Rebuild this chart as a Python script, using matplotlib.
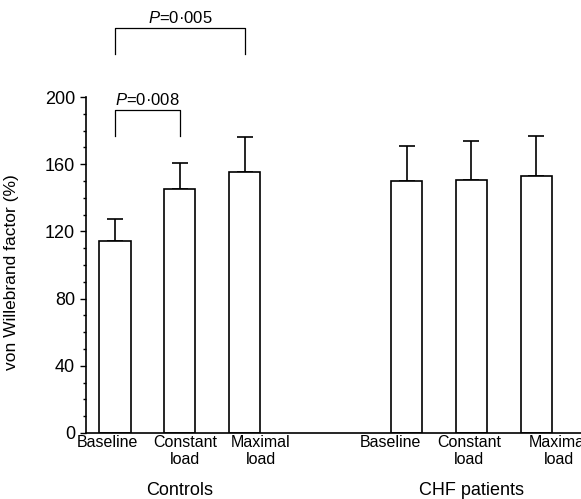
import numpy as np
import matplotlib
matplotlib.use("Agg")
import matplotlib.pyplot as plt
from matplotlib.transforms import blended_transform_factory

plt.rcParams['font.family'] = ['Liberation Sans', 'DejaVu Sans']
plt.rcParams['mathtext.fontset'] = 'custom'
plt.rcParams['mathtext.it'] = 'Liberation Sans:italic'
plt.rcParams['mathtext.rm'] = 'Liberation Sans'

# data
groups = ["Controls", "CHF patients"]
conditions = ["Baseline", "Constant\nload", "Maximal\nload"]
controls_mean = [114, 145, 155.5]
controls_sd = [13.5, 15.5, 20.5]
chf_mean = [150, 150.5, 153]
chf_sd = [21, 23.5, 24]
p_labels = ["$P$=0·008", "$P$=0·005"]

# bar positions (two groups of three)
pos_ctrl = np.array([0, 1, 2])
pos_chf = np.array([4.5, 5.5, 6.5])
positions = np.concatenate([pos_ctrl, pos_chf])
means = np.array(controls_mean + chf_mean)
sds = np.array(controls_sd + chf_sd)
label_shift = [-0.11, 0.08, 0.25, -0.25, -0.04, 0.35]

fig = plt.figure(figsize=(5.81, 4.99), dpi=100)
ax = fig.add_axes([0.148, 0.1323, 0.852, 0.6733])

ax.bar(positions, means, width=0.48, color='white', edgecolor='black',
       linewidth=1.2, zorder=2)
ax.errorbar(positions, means, yerr=[np.zeros_like(sds), sds], fmt='none',
            ecolor='black', elinewidth=1.2, capsize=5.6, capthick=1.2, zorder=1)

ax.set_xlim(-0.448, 7.19)
ax.set_ylim(0, 200)
ax.set_yticks([0, 40, 80, 120, 160, 200])
ax.set_yticks(np.arange(0, 201, 10), minor=True)
ax.tick_params(axis='y', which='major', length=4.3, width=1.0, labelsize=13, pad=3.5)
ax.tick_params(axis='y', which='minor', length=2.2, width=1.0)

ax.set_xticks(positions + np.array(label_shift))
ax.set_xticklabels(conditions * 2, fontsize=11.5, linespacing=1.15)
ax.tick_params(axis='x', length=0, pad=1.5)

for s in ['top', 'right']:
    ax.spines[s].set_visible(False)
for s in ['left', 'bottom']:
    ax.spines[s].set_linewidth(1.2)

ax.set_ylabel("von Willebrand factor (%)", fontsize=12.5)
ax.yaxis.set_label_coords(-0.135, 0.48)

# group labels
trans = blended_transform_factory(ax.transData, ax.transAxes)
ax.text(pos_ctrl.mean(), -0.17, groups[0], transform=trans, ha='center',
        va='center', fontsize=13)
ax.text(pos_chf.mean(), -0.17, groups[1], transform=trans, ha='center',
        va='center', fontsize=13)

# significance brackets
def bracket(x0, x1, y_low, y_high, label, ty):
    ax.plot([x0, x0, x1, x1], [y_low, y_high, y_high, y_low], color='black',
            linewidth=0.9, clip_on=False)
    ax.text((x0 + x1) / 2, ty, label, ha='center', va='center', fontsize=12,
            clip_on=False)

bracket(pos_ctrl[0], pos_ctrl[1], 177, 192, p_labels[0], 198)
bracket(pos_ctrl[0], pos_ctrl[2], 225.5, 241, p_labels[1], 247)

fig.savefig("out.png", dpi=100)
